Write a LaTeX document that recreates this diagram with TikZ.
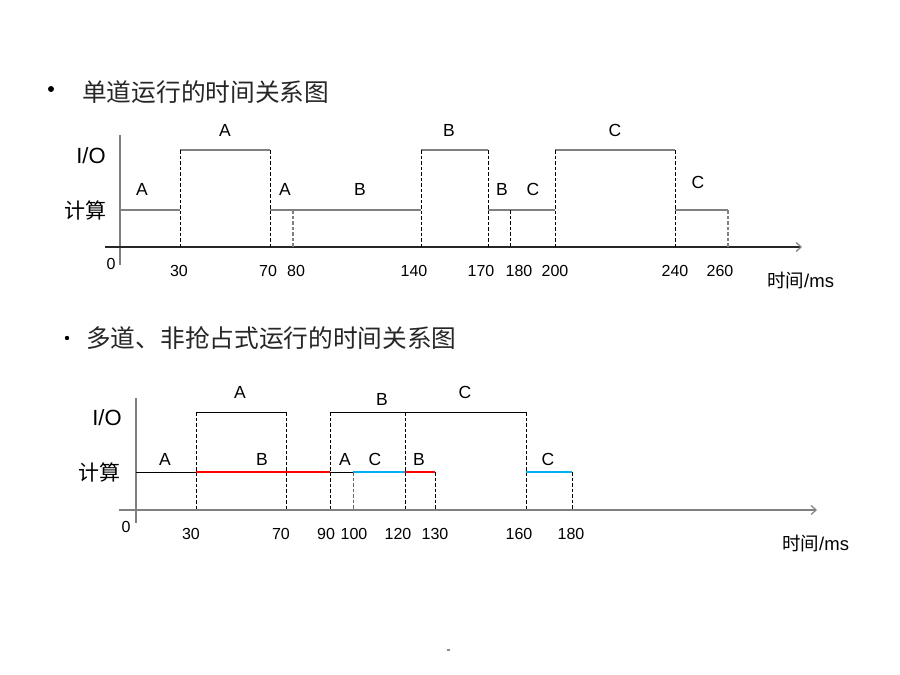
\documentclass[tikz,border=0pt]{standalone}
\usepackage{fontspec}
\setmainfont{Liberation Sans}
\newfontfamily\cjk{Noto Sans CJK SC}
\usetikzlibrary{arrows.meta}
\definecolor{axgray}{HTML}{808080}
\definecolor{segred}{HTML}{FF0000}
\definecolor{segcyan}{HTML}{00B0F0}
\begin{document}
\begin{tikzpicture}[x=1pt,y=-1pt,
  lbl/.style={inner sep=0pt,font=\fontsize{17.5}{19}\selectfont},
  tick/.style={inner sep=0pt,font=\fontsize{16}{18}\selectfont},
  iolbl/.style={inner sep=0pt,font=\fontsize{22}{24}\selectfont},
  cjklbl/.style={inner sep=0pt,font=\cjk\fontsize{21}{24}\selectfont},
  title/.style={inner sep=0pt,anchor=west,font=\cjk\fontsize{24.7}{28}\selectfont,text=black!85},
  unit/.style={inner sep=0pt,anchor=west,font=\fontsize{18.5}{22}\selectfont},
  gseg/.style={draw=axgray,line width=2pt},
  vax/.style={draw=axgray,line width=2pt},
  hax/.style={draw=axgray,line width=1.8pt,-{Straight Barb[length=5pt,width=9pt,line width=1.2pt]}},
  hxtop/.style={draw=black!85,line width=1.2pt,-{Straight Barb[length=5pt,width=9pt,line width=1.2pt,color=axgray]}},
  vdash/.style={draw=black,line width=0.9pt,dash pattern=on 3.5pt off 2pt},
  gdash/.style={draw=axgray,line width=1.8pt,dash pattern=on 3.5pt off 2pt},
  bseg/.style={draw=black,line width=1pt},
  rseg/.style={draw=segred,line width=1.3pt},
  cseg/.style={draw=segcyan,line width=1.3pt}]
\useasboundingbox (0,0) rectangle (900,675);
\fill[white] (0,0) rectangle (900,675);

% ================= TOP DIAGRAM =================
\fill (51,89) circle (3pt);
\node[title] (t1) at (82,92) {单道运行的时间关系图};

\coordinate (vtop1) at (120,135);
\coordinate (vbot1) at (120,265);
\coordinate (hl1) at (105,247);
\coordinate (hr1) at (802,247);
\draw[vax] (vtop1) -- (vbot1);
\draw[hxtop] (hl1) -- (hr1);

% compute level y=210, IO level y=150
\coordinate (c0) at (120,210);   \coordinate (c30) at (180,210);
\coordinate (i30) at (180,150);  \coordinate (i70) at (270,150);
\coordinate (c70) at (270,210);  \coordinate (c80) at (293,210);
\coordinate (c140) at (421,210); \coordinate (i140) at (421,150);
\coordinate (i170) at (488,150); \coordinate (c170) at (488,210);
\coordinate (c180) at (510,210); \coordinate (c200) at (555,210);
\coordinate (i200) at (555,150); \coordinate (i240) at (675,150);
\coordinate (c240) at (675,210); \coordinate (c260) at (728,210);
\coordinate (a30) at (180,247);  \coordinate (a70) at (270,247);
\coordinate (a80) at (293,247);  \coordinate (a140) at (421,247);
\coordinate (a170) at (488,247); \coordinate (a180) at (510,247);
\coordinate (a200) at (555,247); \coordinate (a240) at (675,247);
\coordinate (a260) at (728,247);

\draw[gseg] (c0) -- (c30);
\draw[gseg] (i30) -- (i70);
\draw[gseg] (c70) -- (c140);
\draw[gseg] (i140) -- (i170);
\draw[gseg] (c170) -- (c200);
\draw[gseg] (i200) -- (i240);
\draw[gseg] (c240) -- (c260);

\draw[vdash] (i30) -- (a30);
\draw[vdash] (i70) -- (a70);
\draw[gdash] (c80) -- (a80);
\draw[vdash] (i140) -- (a140);
\draw[vdash] (i170) -- (a170);
\draw[vdash] (c180) -- (a180);
\draw[vdash] (i200) -- (a200);
\draw[vdash] (i240) -- (a240);
\draw[gdash] (c260) -- (a260);

\node[lbl] (ta1) at (225,130) {A};
\node[lbl] (tb1) at (449,130) {B};
\node[lbl] (tc1) at (615,130) {C};
\node[lbl] (ca1) at (142,189) {A};
\node[lbl] (ca2) at (285,189) {A};
\node[lbl] (cb1) at (360,189) {B};
\node[lbl] (cb2) at (502,189) {B};
\node[lbl] (cc1) at (533,189) {C};
\node[lbl] (cc2) at (698,182) {C};

\node[iolbl] (io1) at (91,156) {I/O};
\node[cjklbl] (js1) at (85,210) {计算};

\node[tick] (n0a) at (111,264) {0};
\node[tick] (n30a) at (179,271) {30};
\node[tick] (n70a) at (268,271) {70};
\node[tick] (n80a) at (296,271) {80};
\node[tick] (n140a) at (414,271) {140};
\node[tick] (n170a) at (481,271) {170};
\node[tick] (n180a) at (519,271) {180};
\node[tick] (n200a) at (555,271) {200};
\node[tick] (n240a) at (675,271) {240};
\node[tick] (n260a) at (720,271) {260};
\node[unit] (u1) at (767,281) {{\cjk 时间}/ms};

% ================= BOTTOM DIAGRAM =================
\fill (67,338) circle (2.2pt);
\node[title] (t2) at (86,338) {多道、非抢占式运行的时间关系图};

\coordinate (vtop2) at (136,398);
\coordinate (vbot2) at (136,523);
\coordinate (hl2) at (119,510);
\coordinate (hr2) at (817,510);
\draw[vax] (vtop2) -- (vbot2);
\draw[hax] (hl2) -- (hr2);

% compute y=472, IO y=412
\coordinate (d0) at (136,472);   \coordinate (d30) at (196,472);
\coordinate (d90) at (330,472);  \coordinate (d100) at (353,472);
\coordinate (d120) at (405,472); \coordinate (d130) at (435,472);
\coordinate (d160) at (526,472); \coordinate (d180) at (572,472);
\coordinate (j30) at (196,412);  \coordinate (j70) at (286,412);
\coordinate (j90) at (330,412);  \coordinate (j120) at (405,412);
\coordinate (j160) at (526,412);
\coordinate (b30) at (196,510);  \coordinate (b70) at (286,510);
\coordinate (b90) at (330,510);  \coordinate (b100) at (353,510);
\coordinate (b120) at (405,510); \coordinate (b130) at (435,510);
\coordinate (b160) at (526,510); \coordinate (b180) at (572,510);

\draw[bseg] (j30) -- (j70);
\draw[bseg] (j90) -- (j160);

\draw[bseg] (d0) -- (d30);
\draw[rseg] (d30) -- (d90);
\draw[bseg] (d90) -- (d100);
\draw[cseg] (d100) -- (d120);
\draw[rseg] (d120) -- (d130);
\draw[cseg] (d160) -- (d180);

\draw[vdash] (j30) -- (b30);
\draw[vdash] (j70) -- (b70);
\draw[vdash] (j90) -- (b90);
\draw[vdash,draw=black!60] (d100) -- (b100);
\draw[vdash] (j120) -- (b120);
\draw[vdash] (d130) -- (b130);
\draw[vdash] (j160) -- (b160);
\draw[vdash] (d180) -- (b180);

\node[lbl] (ua1) at (240,392) {A};
\node[lbl] (ub1) at (382,399) {B};
\node[lbl] (uc1) at (465,392) {C};
\node[lbl] (da1) at (165,459) {A};
\node[lbl] (db1) at (262,459) {B};
\node[lbl] (da2) at (345,459) {A};
\node[lbl] (dc1) at (375,459) {C};
\node[lbl] (db2) at (419,459) {B};
\node[lbl] (dc2) at (548,459) {C};

\node[iolbl] (io2) at (107,418) {I/O};
\node[cjklbl] (js2) at (99,472) {计算};

\node[tick] (n0b) at (126,527) {0};
\node[tick] (n30b) at (191,534) {30};
\node[tick] (n70b) at (281,534) {70};
\node[tick] (n90b) at (326,534) {90};
\node[tick] (n100b) at (354,534) {100};
\node[tick] (n120b) at (398,534) {120};
\node[tick] (n130b) at (435,534) {130};
\node[tick] (n160b) at (519,534) {160};
\node[tick] (n180b) at (571,534) {180};
\node[unit] (u2) at (782,544) {{\cjk 时间}/ms};

\fill[black!45] (447,649) rectangle (449.5,651);
\end{tikzpicture}
\end{document}
